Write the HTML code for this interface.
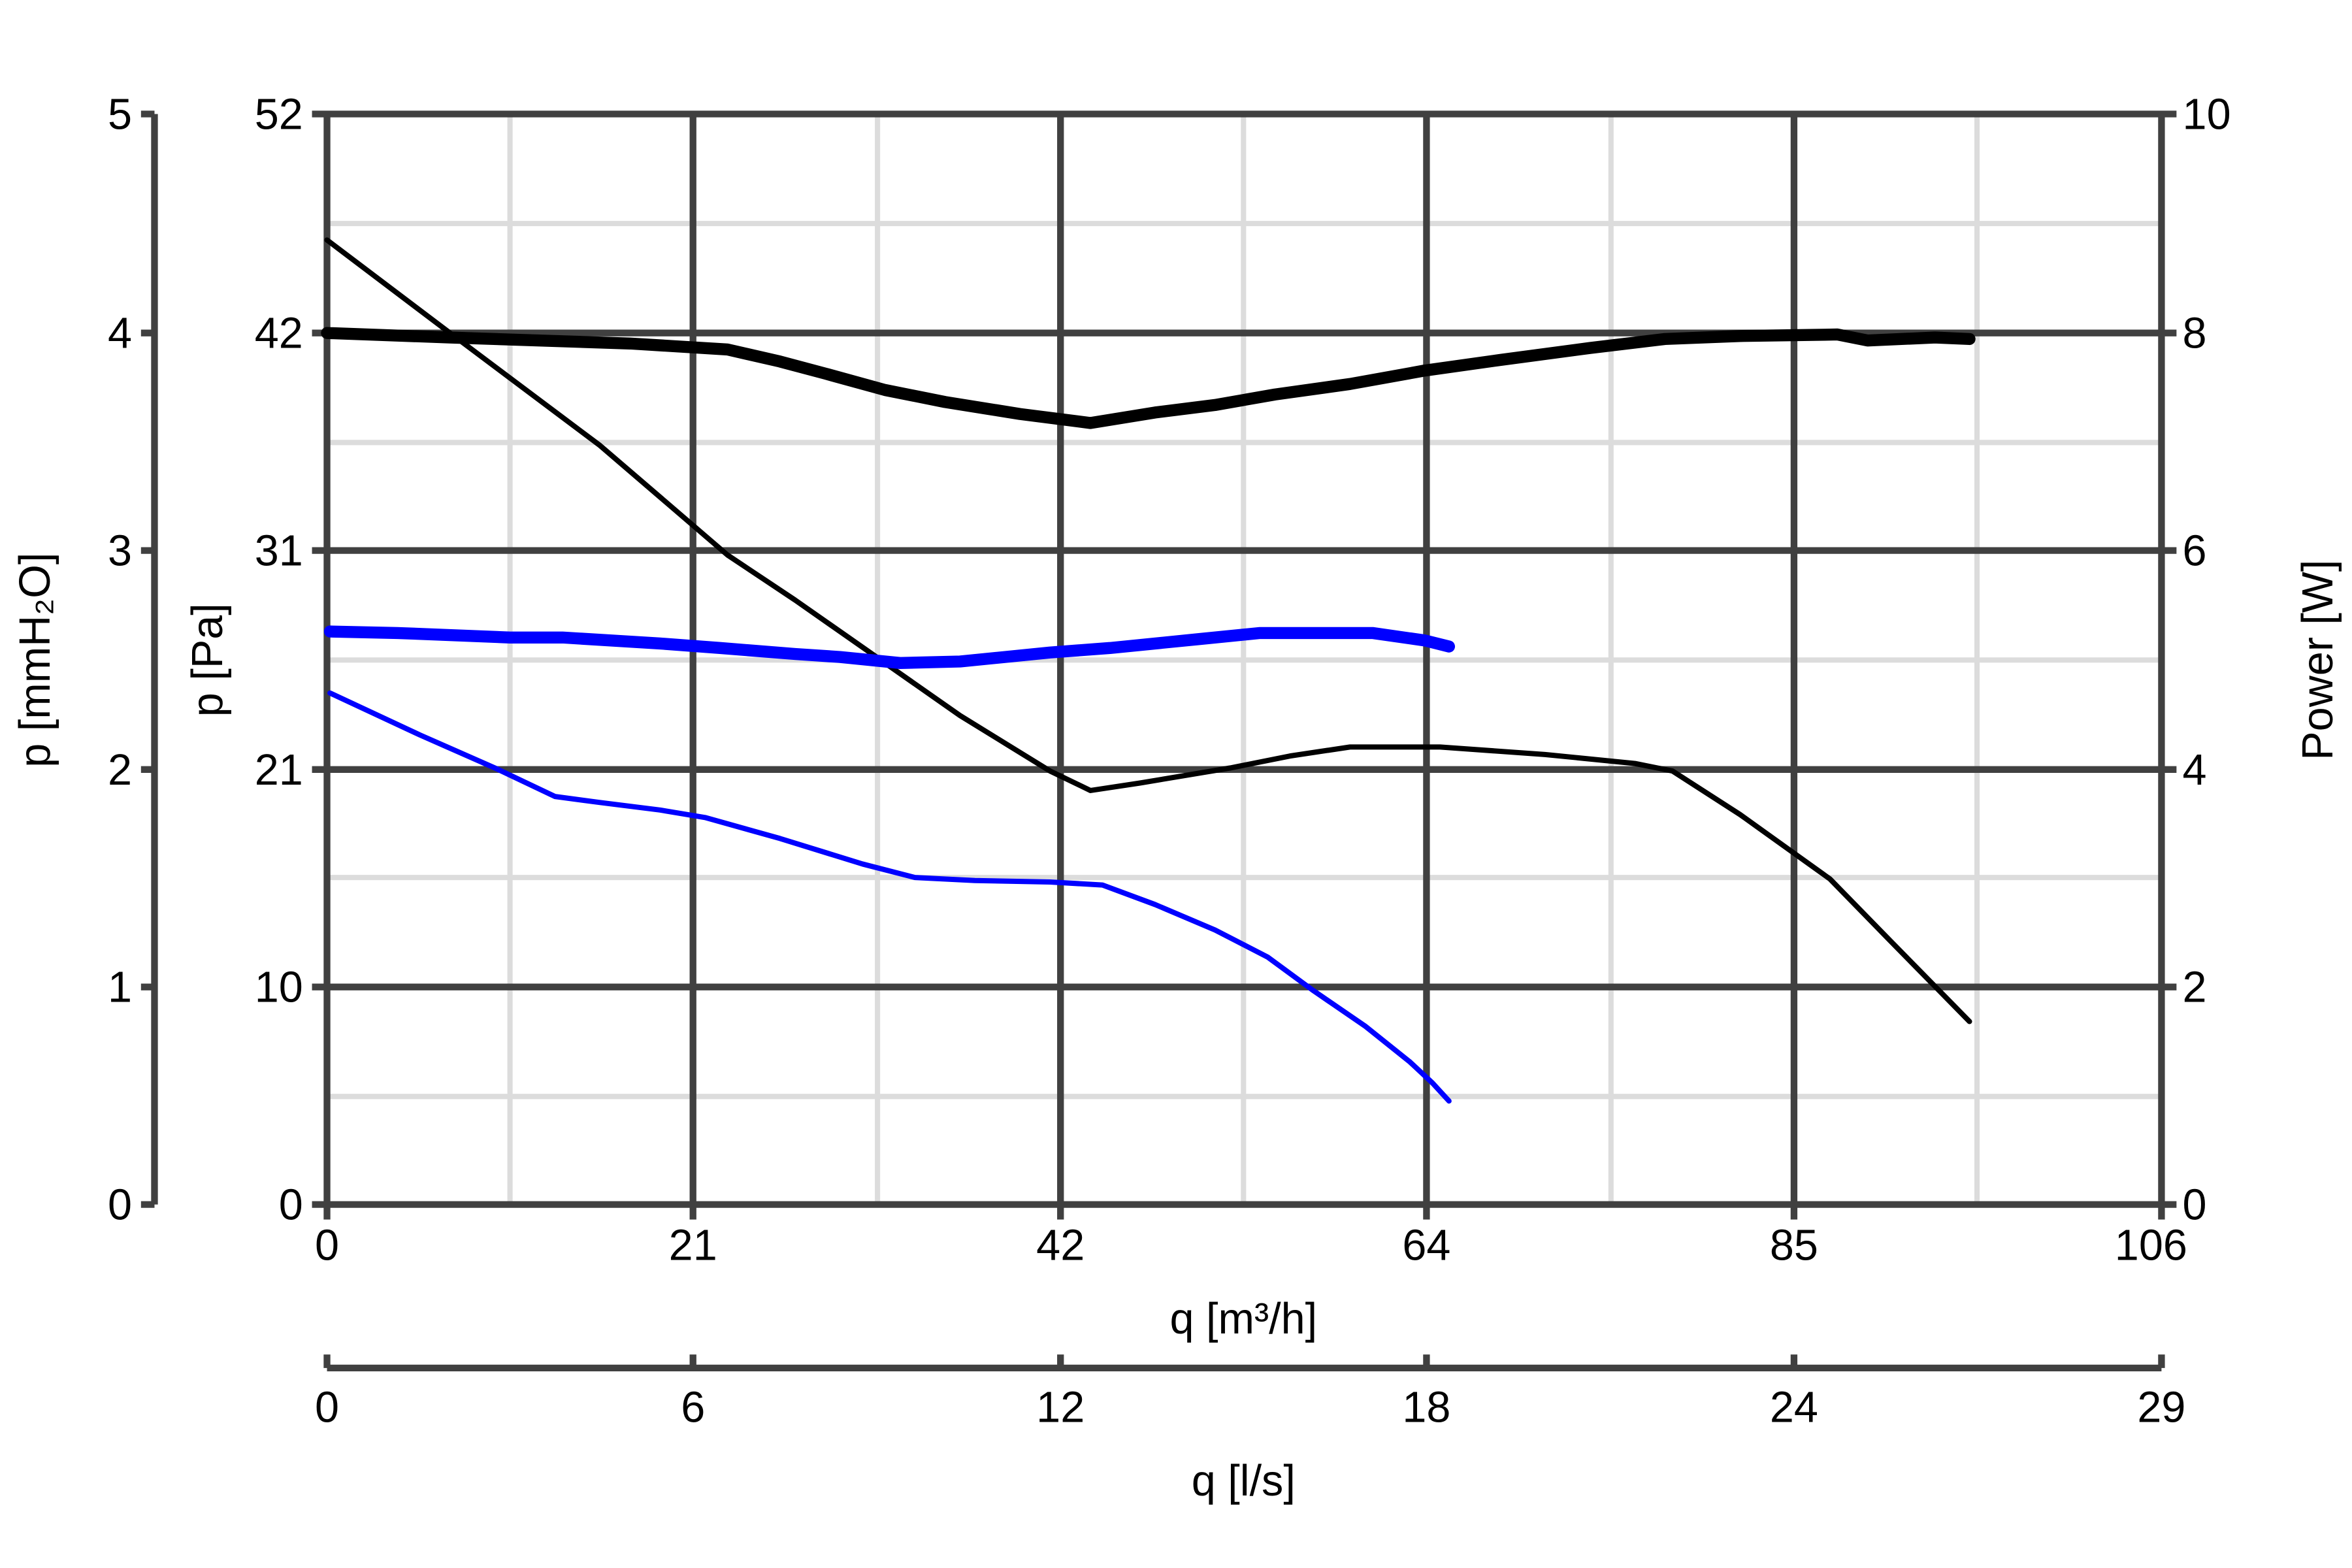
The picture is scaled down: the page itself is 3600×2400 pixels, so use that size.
<!DOCTYPE html>
<html><head><style>html,body{margin:0;padding:0;background:#fff}svg{display:block}</style></head>
<body>
<svg xmlns="http://www.w3.org/2000/svg" width="3600" height="2400" viewBox="0 0 1568 1045.33" font-family="Liberation Sans, Arial, sans-serif" font-size="29">
<rect width="1568" height="1046" fill="#fff"/>
<g stroke="#dcdcdc" stroke-width="3.5">
<line x1="340" y1="76" x2="340" y2="803"/><line x1="585" y1="76" x2="585" y2="803"/><line x1="829" y1="76" x2="829" y2="803"/><line x1="1074" y1="76" x2="1074" y2="803"/><line x1="1318" y1="76" x2="1318" y2="803"/>
<line x1="218" y1="149" x2="1441" y2="149"/><line x1="218" y1="295" x2="1441" y2="295"/><line x1="218" y1="440" x2="1441" y2="440"/><line x1="218" y1="585" x2="1441" y2="585"/><line x1="218" y1="731" x2="1441" y2="731"/>
</g>
<g stroke="#404040" stroke-width="4.5">
<line x1="462" y1="76" x2="462" y2="803"/><line x1="707" y1="76" x2="707" y2="803"/><line x1="951" y1="76" x2="951" y2="803"/><line x1="1196" y1="76" x2="1196" y2="803"/>
<line x1="208" y1="76" x2="1451" y2="76"/><line x1="208" y1="222" x2="1451" y2="222"/><line x1="208" y1="367" x2="1451" y2="367"/><line x1="208" y1="513" x2="1451" y2="513"/><line x1="208" y1="658" x2="1451" y2="658"/><line x1="208" y1="803" x2="1451" y2="803"/>
<line x1="218" y1="76" x2="218" y2="813"/><line x1="1441" y1="76" x2="1441" y2="813"/>
<line x1="462" y1="803" x2="462" y2="813"/><line x1="707" y1="803" x2="707" y2="813"/><line x1="951" y1="803" x2="951" y2="813"/><line x1="1196" y1="803" x2="1196" y2="813"/>
<line x1="103" y1="76" x2="103" y2="803"/>
<line x1="94" y1="76" x2="103" y2="76"/><line x1="94" y1="222" x2="103" y2="222"/><line x1="94" y1="367" x2="103" y2="367"/><line x1="94" y1="513" x2="103" y2="513"/><line x1="94" y1="658" x2="103" y2="658"/><line x1="94" y1="803" x2="103" y2="803"/>
<line x1="218" y1="912" x2="1441" y2="912"/>
<line x1="218" y1="903" x2="218" y2="912"/><line x1="462" y1="903" x2="462" y2="912"/><line x1="707" y1="903" x2="707" y2="912"/><line x1="951" y1="903" x2="951" y2="912"/><line x1="1196" y1="903" x2="1196" y2="912"/><line x1="1441" y1="903" x2="1441" y2="912"/>
</g>
<g fill="none" stroke-linejoin="round" stroke-linecap="round">
<path d="M218,222 L300,225 L420,229 L485,233 L520,241 L550,249 L590,260 L630,268 L680,276 L727,282 L770,275 L810,270 L850,263 L900,256 L950,247 L1000,240 L1060,232 L1110,226 L1160,224 L1225,223 L1245,227 L1290,225 L1313,226" stroke="#000" stroke-width="8"/>
<path d="M218,160 L300,222 L400,297 L485,370 L530,400 L580,435 L640,477 L700,514 L727,527 L760,522 L820,512 L860,504 L900,498 L960,498 L1030,503 L1090,509 L1115,514 L1160,543 L1220,586 L1260,627 L1313,681" stroke="#000" stroke-width="3.5"/>
<path d="M220,421 L265,422 L340,425 L375,425 L440,429 L480,432 L530,436 L560,438 L600,442 L640,441 L700,435 L740,432 L800,426 L840,422 L915,422 L950,427 L966,431" stroke="#0000ff" stroke-width="8"/>
<path d="M220,462 L280,490 L330,512 L370,531 L400,535 L440,540 L470,545 L520,559 L575,576 L610,585 L650,587 L700,588 L735,590 L770,603 L810,620 L845,638 L875,660 L910,684 L940,708 L955,722 L966,734" stroke="#0000ff" stroke-width="3.5"/>
</g>
<g fill="#000" text-anchor="end">
<text x="88" y="86">5</text><text x="88" y="232">4</text><text x="88" y="377">3</text><text x="88" y="523">2</text><text x="88" y="668">1</text><text x="88" y="813">0</text>
<text x="202" y="86">52</text><text x="202" y="232">42</text><text x="202" y="377">31</text><text x="202" y="523">21</text><text x="202" y="668">10</text><text x="202" y="813">0</text>
</g>
<g fill="#000" text-anchor="start">
<text x="1455" y="86">10</text><text x="1455" y="232">8</text><text x="1455" y="377">6</text><text x="1455" y="523">4</text><text x="1455" y="668">2</text><text x="1455" y="813">0</text>
</g>
<g fill="#000" text-anchor="middle">
<text x="218" y="840">0</text><text x="462" y="840">21</text><text x="707" y="840">42</text><text x="951" y="840">64</text><text x="1196" y="840">85</text><text x="1434" y="840">106</text>
<text x="829" y="889">q [m³/h]</text>
<text x="218" y="948">0</text><text x="462" y="948">6</text><text x="707" y="948">12</text><text x="951" y="948">18</text><text x="1196" y="948">24</text><text x="1441" y="948">29</text>
<text x="829" y="997">q [l/s]</text>
<text transform="translate(33,440) rotate(-90)">p [mmH₂O]</text>
<text transform="translate(148,440) rotate(-90)">p [Pa]</text>
<text transform="translate(1555,440) rotate(-90)">Power [W]</text>
</g>
</svg>
</body></html>
